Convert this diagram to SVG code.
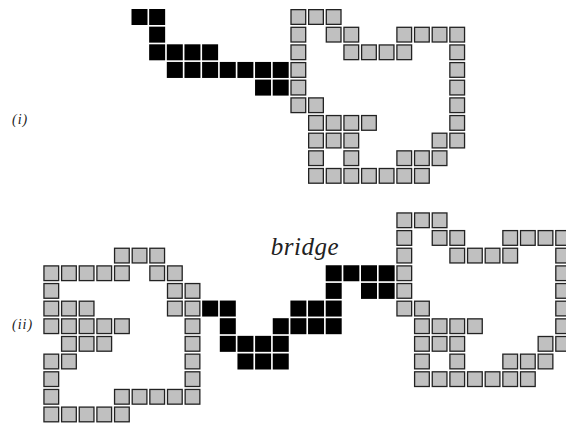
<svg xmlns="http://www.w3.org/2000/svg" xmlns:xlink="http://www.w3.org/1999/xlink" width="566" height="426" viewBox="0 0 566 426">
<style>
.g{fill:#c0c0c0;stroke:#222;stroke-width:1.3}
.b{fill:#000}
.lbl{font-family:"Liberation Serif","DejaVu Serif",serif;font-style:italic;fill:#222}
</style>
<defs>
<rect id="gc" class="g" x="0.65" y="0.65" width="14.7" height="14.7"/>
<rect id="bc" class="b" x="0" y="0" width="16" height="16"/>
<g id="shape">
<use xlink:href="#gc" x="0" y="0"/><use xlink:href="#gc" x="17.65" y="0"/><use xlink:href="#gc" x="35.3" y="0"/>
<use xlink:href="#gc" x="0" y="17.65"/><use xlink:href="#gc" x="35.3" y="17.65"/><use xlink:href="#gc" x="52.95" y="17.65"/><use xlink:href="#gc" x="105.9" y="17.65"/><use xlink:href="#gc" x="123.55" y="17.65"/><use xlink:href="#gc" x="141.2" y="17.65"/><use xlink:href="#gc" x="158.85" y="17.65"/>
<use xlink:href="#gc" x="0" y="35.3"/><use xlink:href="#gc" x="52.95" y="35.3"/><use xlink:href="#gc" x="70.6" y="35.3"/><use xlink:href="#gc" x="88.25" y="35.3"/><use xlink:href="#gc" x="105.9" y="35.3"/><use xlink:href="#gc" x="158.85" y="35.3"/>
<use xlink:href="#gc" x="0" y="52.95"/><use xlink:href="#gc" x="158.85" y="52.95"/>
<use xlink:href="#gc" x="0" y="70.6"/><use xlink:href="#gc" x="158.85" y="70.6"/>
<use xlink:href="#gc" x="0" y="88.25"/><use xlink:href="#gc" x="17.65" y="88.25"/><use xlink:href="#gc" x="158.85" y="88.25"/>
<use xlink:href="#gc" x="17.65" y="105.9"/><use xlink:href="#gc" x="35.3" y="105.9"/><use xlink:href="#gc" x="52.95" y="105.9"/><use xlink:href="#gc" x="70.6" y="105.9"/><use xlink:href="#gc" x="158.85" y="105.9"/>
<use xlink:href="#gc" x="17.65" y="123.55"/><use xlink:href="#gc" x="35.3" y="123.55"/><use xlink:href="#gc" x="52.95" y="123.55"/><use xlink:href="#gc" x="141.2" y="123.55"/><use xlink:href="#gc" x="158.85" y="123.55"/>
<use xlink:href="#gc" x="17.65" y="141.2"/><use xlink:href="#gc" x="52.95" y="141.2"/><use xlink:href="#gc" x="105.9" y="141.2"/><use xlink:href="#gc" x="123.55" y="141.2"/><use xlink:href="#gc" x="141.2" y="141.2"/>
<use xlink:href="#gc" x="17.65" y="158.85"/><use xlink:href="#gc" x="35.3" y="158.85"/><use xlink:href="#gc" x="52.95" y="158.85"/><use xlink:href="#gc" x="70.6" y="158.85"/><use xlink:href="#gc" x="88.25" y="158.85"/><use xlink:href="#gc" x="105.9" y="158.85"/><use xlink:href="#gc" x="123.55" y="158.85"/>
</g>
</defs>
<g id="fig-i">
<text class="lbl" x="12" y="123.5" font-size="14" letter-spacing="1">(i)</text>
<g id="fig-i-path" transform="translate(131.5,9)">
<use xlink:href="#bc" x="0" y="0"/><use xlink:href="#bc" x="17.65" y="0"/>
<use xlink:href="#bc" x="17.65" y="17.65"/>
<use xlink:href="#bc" x="17.65" y="35.3"/><use xlink:href="#bc" x="35.3" y="35.3"/><use xlink:href="#bc" x="52.95" y="35.3"/><use xlink:href="#bc" x="70.6" y="35.3"/>
<use xlink:href="#bc" x="35.3" y="52.95"/><use xlink:href="#bc" x="52.95" y="52.95"/><use xlink:href="#bc" x="70.6" y="52.95"/><use xlink:href="#bc" x="88.25" y="52.95"/><use xlink:href="#bc" x="105.9" y="52.95"/><use xlink:href="#bc" x="123.55" y="52.95"/><use xlink:href="#bc" x="141.2" y="52.95"/>
<use xlink:href="#bc" x="123.55" y="70.6"/><use xlink:href="#bc" x="141.2" y="70.6"/>
</g>
<g id="fig-i-shape" transform="translate(290.35,9)"><use xlink:href="#shape"/></g>
</g>
<g id="fig-ii">
<text class="lbl" x="12" y="328.5" font-size="14" letter-spacing="1">(ii)</text>
<text class="lbl" x="305" y="254.5" font-size="25" text-anchor="middle" letter-spacing="0.5">bridge</text>
<g id="fig-ii-left" transform="translate(43.3,212.3)">
<use xlink:href="#gc" x="70.6" y="35.3"/><use xlink:href="#gc" x="88.25" y="35.3"/><use xlink:href="#gc" x="105.9" y="35.3"/>
<use xlink:href="#gc" x="0" y="52.95"/><use xlink:href="#gc" x="17.65" y="52.95"/><use xlink:href="#gc" x="35.3" y="52.95"/><use xlink:href="#gc" x="52.95" y="52.95"/><use xlink:href="#gc" x="70.6" y="52.95"/><use xlink:href="#gc" x="105.9" y="52.95"/><use xlink:href="#gc" x="123.55" y="52.95"/>
<use xlink:href="#gc" x="0" y="70.6"/><use xlink:href="#gc" x="123.55" y="70.6"/><use xlink:href="#gc" x="141.2" y="70.6"/>
<use xlink:href="#gc" x="0" y="88.25"/><use xlink:href="#gc" x="17.65" y="88.25"/><use xlink:href="#gc" x="35.3" y="88.25"/><use xlink:href="#gc" x="123.55" y="88.25"/><use xlink:href="#gc" x="141.2" y="88.25"/>
<use xlink:href="#gc" x="0" y="105.9"/><use xlink:href="#gc" x="17.65" y="105.9"/><use xlink:href="#gc" x="35.3" y="105.9"/><use xlink:href="#gc" x="52.95" y="105.9"/><use xlink:href="#gc" x="70.6" y="105.9"/><use xlink:href="#gc" x="141.2" y="105.9"/>
<use xlink:href="#gc" x="17.65" y="123.55"/><use xlink:href="#gc" x="35.3" y="123.55"/><use xlink:href="#gc" x="52.95" y="123.55"/><use xlink:href="#gc" x="141.2" y="123.55"/>
<use xlink:href="#gc" x="0" y="141.2"/><use xlink:href="#gc" x="17.65" y="141.2"/><use xlink:href="#gc" x="141.2" y="141.2"/>
<use xlink:href="#gc" x="0" y="158.85"/><use xlink:href="#gc" x="141.2" y="158.85"/>
<use xlink:href="#gc" x="0" y="176.5"/><use xlink:href="#gc" x="70.6" y="176.5"/><use xlink:href="#gc" x="88.25" y="176.5"/><use xlink:href="#gc" x="105.9" y="176.5"/><use xlink:href="#gc" x="123.55" y="176.5"/><use xlink:href="#gc" x="141.2" y="176.5"/>
<use xlink:href="#gc" x="0" y="194.15"/><use xlink:href="#gc" x="17.65" y="194.15"/><use xlink:href="#gc" x="35.3" y="194.15"/><use xlink:href="#gc" x="52.95" y="194.15"/><use xlink:href="#gc" x="70.6" y="194.15"/>
</g>
<g id="fig-ii-bridge" transform="translate(43.3,212.3)">
<use xlink:href="#bc" x="282.4" y="52.95"/><use xlink:href="#bc" x="300.05" y="52.95"/><use xlink:href="#bc" x="317.7" y="52.95"/><use xlink:href="#bc" x="335.35" y="52.95"/>
<use xlink:href="#bc" x="282.4" y="70.6"/><use xlink:href="#bc" x="317.7" y="70.6"/><use xlink:href="#bc" x="335.35" y="70.6"/>
<use xlink:href="#bc" x="158.85" y="88.25"/><use xlink:href="#bc" x="176.5" y="88.25"/><use xlink:href="#bc" x="247.1" y="88.25"/><use xlink:href="#bc" x="264.75" y="88.25"/><use xlink:href="#bc" x="282.4" y="88.25"/>
<use xlink:href="#bc" x="176.5" y="105.9"/><use xlink:href="#bc" x="229.45" y="105.9"/><use xlink:href="#bc" x="247.1" y="105.9"/><use xlink:href="#bc" x="264.75" y="105.9"/><use xlink:href="#bc" x="282.4" y="105.9"/>
<use xlink:href="#bc" x="176.5" y="123.55"/><use xlink:href="#bc" x="194.15" y="123.55"/><use xlink:href="#bc" x="211.8" y="123.55"/><use xlink:href="#bc" x="229.45" y="123.55"/>
<use xlink:href="#bc" x="194.15" y="141.2"/><use xlink:href="#bc" x="211.8" y="141.2"/><use xlink:href="#bc" x="229.45" y="141.2"/>
</g>
<g id="fig-ii-right" transform="translate(396.3,212.3)"><use xlink:href="#shape"/></g>
</g>
</svg>
